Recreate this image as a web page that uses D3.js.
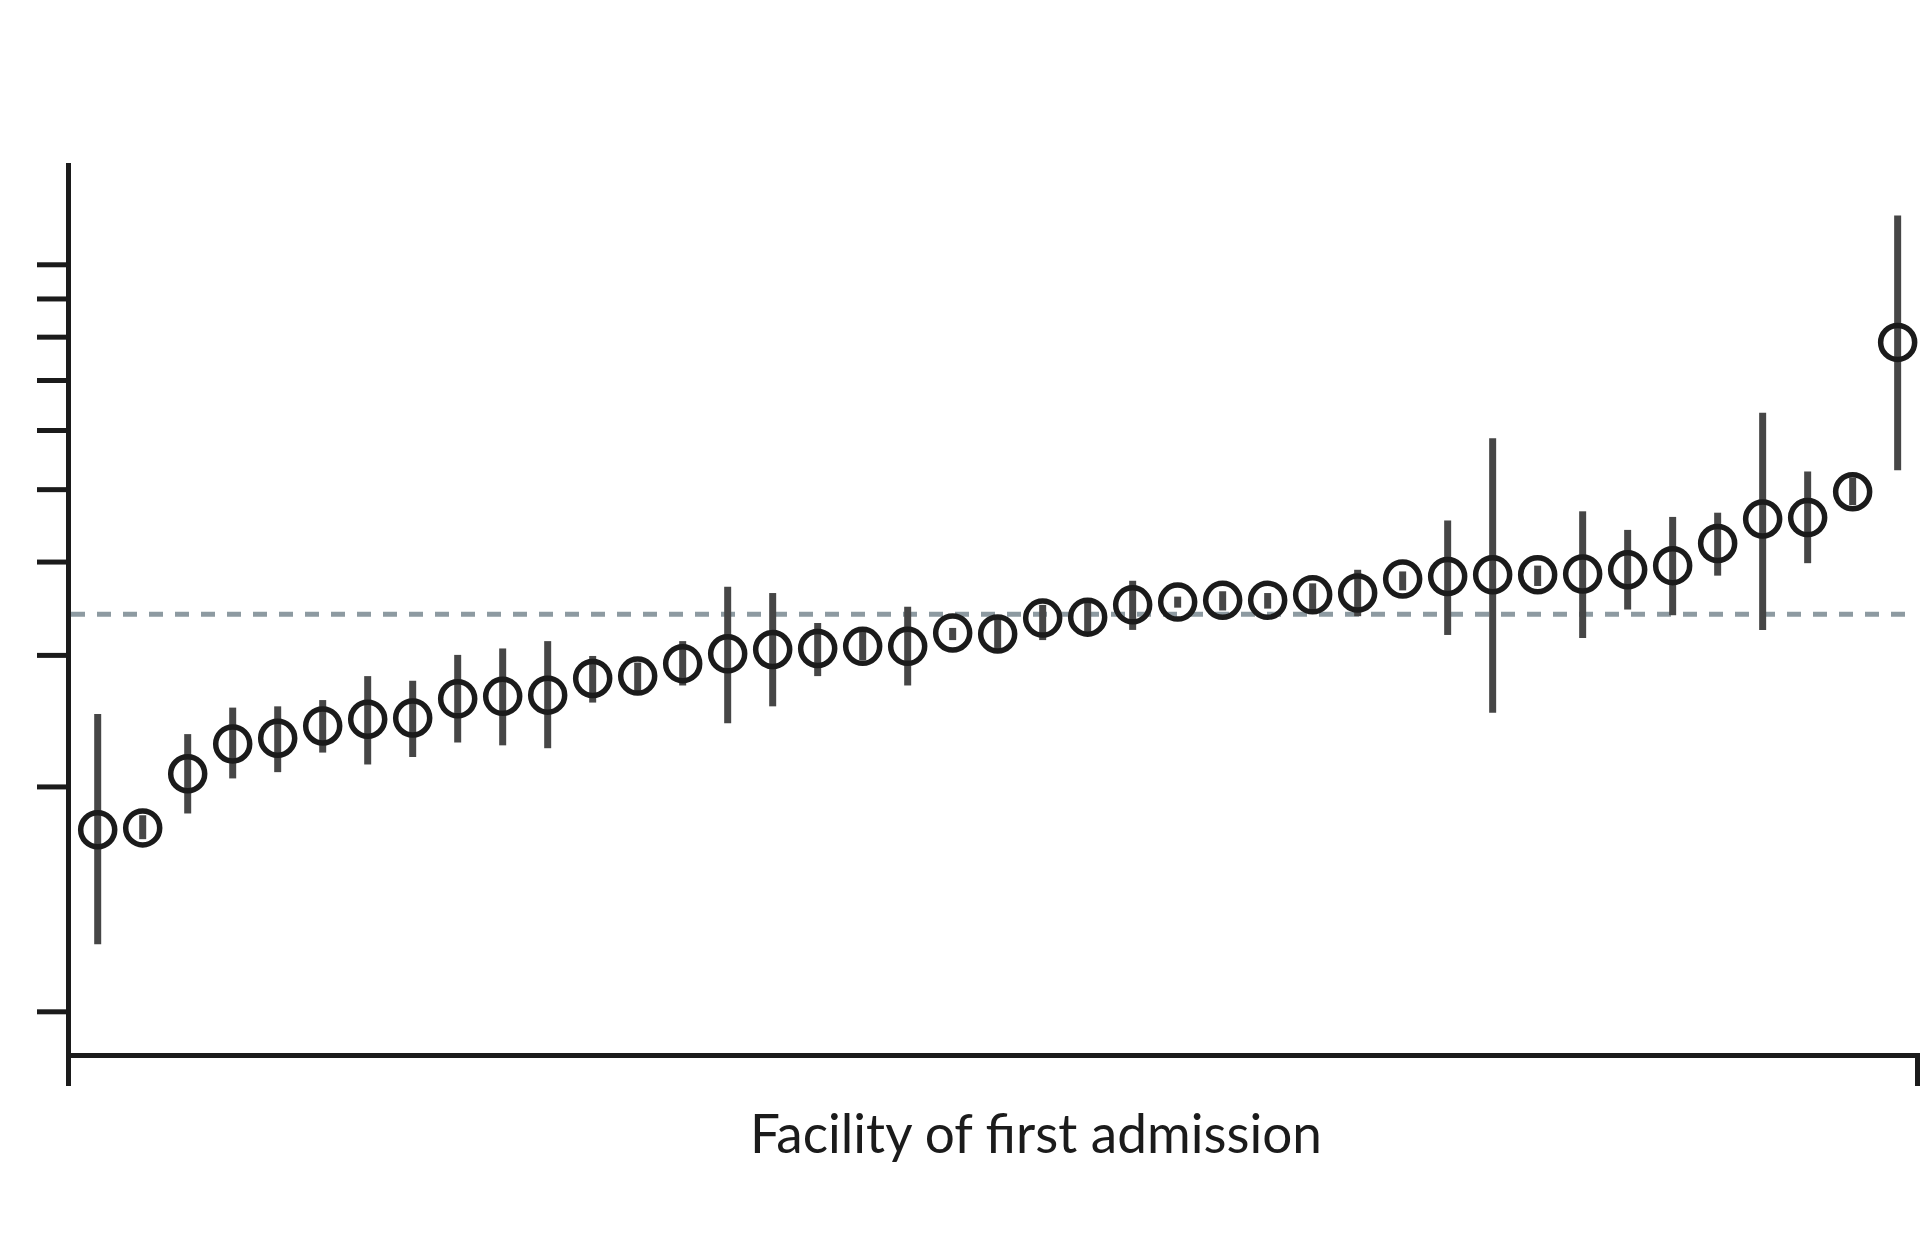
<!DOCTYPE html>
<html>
<head>
<meta charset="utf-8">
<script src="https://cdn.jsdelivr.net/npm/d3@7"></script>
<style>
  html, body { margin: 0; padding: 0; background: #fff; }
  svg { display: block; }
</style>
</head>
<body>
<svg id="chart"></svg>
<script>
/* Facility-level estimates with intervals, log y axis, sorted ascending. */
var facilities = d3.range(1, 42);
var estimate = [1.75, 1.76, 2.08, 2.28, 2.32, 2.41, 2.46, 2.47, 2.62, 2.64,
  2.65, 2.79, 2.81, 2.92, 3.01, 3.05, 3.06, 3.08, 3.08, 3.21,
  3.20, 3.36, 3.37, 3.50, 3.53, 3.55, 3.55, 3.61, 3.63, 3.79,
  3.82, 3.84, 3.84, 3.85, 3.90, 3.95, 4.23, 4.56, 4.58, 4.96, 7.86];
var lower = [1.23, 1.70, 1.84, 2.05, 2.09, 2.22, 2.14, 2.19, 2.29, 2.27,
  2.25, 2.59, 2.67, 2.73, 2.43, 2.56, 2.81, 2.95, 2.73, 3.14,
  3.03, 3.14, 3.18, 3.24, 3.47, 3.44, 3.46, 3.43, 3.38, 3.66,
  3.19, 2.51, 3.71, 3.16, 3.45, 3.39, 3.83, 3.24, 3.98, 4.76, 5.30];
var upper = [2.50, 1.83, 2.35, 2.55, 2.56, 2.61, 2.81, 2.77, 3.00, 3.06,
  3.13, 2.99, 2.93, 3.13, 3.70, 3.63, 3.31, 3.22, 3.48, 3.26,
  3.36, 3.50, 3.52, 3.77, 3.59, 3.65, 3.63, 3.74, 3.90, 3.88,
  4.54, 5.85, 3.95, 4.67, 4.41, 4.59, 4.65, 6.33, 5.28, 5.18, 11.62];
var yTicks = [1, 2, 3, 4, 5, 6, 7, 8, 9, 10];
var reference = 3.4;
var xLabel = "Facility of first admission";

var W = 1920, H = 1239;
var svg = d3.select("#chart").attr("width", W).attr("height", H);

var x = d3.scaleLinear().domain([0.34, 41.43]).range([68, 1917]);
var y = d3.scaleLog().domain([0.874, 13.58]).range([1055, 165]);

var rows = facilities.map(function (f, i) {
  return { f: f, est: estimate[i], lo: lower[i], hi: upper[i] };
});

// reference line
svg.append("line")
  .attr("x1", x.range()[0] + 3).attr("x2", x.range()[1])
  .attr("y1", y(reference)).attr("y2", y(reference))
  .attr("stroke", "#8d9aa1")
  .attr("stroke-width", 5)
  .attr("stroke-dasharray", "14,12");

// error bars
svg.append("g").selectAll("line")
  .data(rows)
  .join("line")
  .attr("x1", function (d) { return x(d.f); })
  .attr("x2", function (d) { return x(d.f); })
  .attr("y1", function (d) { return y(d.lo); })
  .attr("y2", function (d) { return y(d.hi); })
  .attr("stroke", "#464646")
  .attr("stroke-width", 7);

// point estimates
svg.append("g").selectAll("circle")
  .data(rows)
  .join("circle")
  .attr("cx", function (d) { return x(d.f); })
  .attr("cy", function (d) { return y(d.est); })
  .attr("r", 17)
  .attr("fill", "none")
  .attr("stroke", "#1b1b1b")
  .attr("stroke-width", 5.5);

// y axis
var yAxis = svg.append("g")
  .attr("transform", "translate(" + x.range()[0] + ",0)")
  .call(d3.axisLeft(y).tickValues(yTicks).tickFormat("").tickSize(31).tickSizeOuter(0));

// x axis, ticks only at the ends
var xAxis = svg.append("g")
  .attr("transform", "translate(0," + y.range()[0] + ")")
  .call(d3.axisBottom(x).tickValues(x.domain()).tickFormat("").tickSize(31).tickSizeOuter(0));

[yAxis, xAxis].forEach(function (ax) {
  ax.select(".domain").attr("stroke", "#1b1b1b").attr("stroke-width", 5).attr("stroke-linecap", "square");
  ax.selectAll(".tick line").attr("stroke", "#1b1b1b").attr("stroke-width", 5);
});

svg.append("text")
  .attr("x", 1036)
  .attr("y", 1153)
  .attr("text-anchor", "middle")
  .attr("textLength", 572)
  .attr("lengthAdjust", "spacingAndGlyphs")
  .attr("fill", "#1b1b1b")
  .style("font-family", "Lato, 'Open Sans', 'Noto Sans', sans-serif")
  .style("font-size", "54px")
  .text(xLabel);
</script>
</body>
</html>
